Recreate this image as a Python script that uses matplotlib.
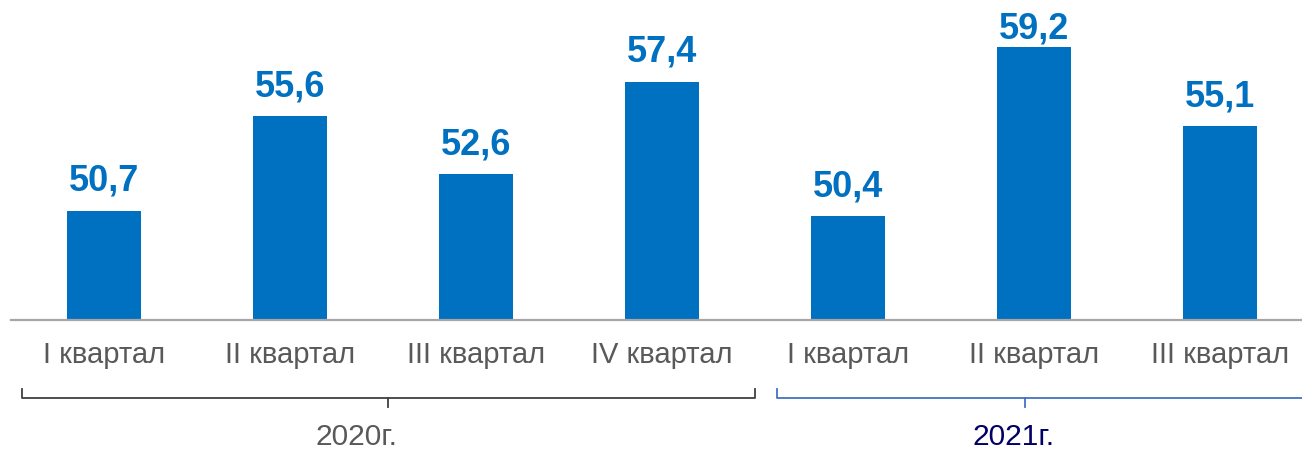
import matplotlib
matplotlib.use("Agg")
import matplotlib.pyplot as plt
from matplotlib.transforms import blended_transform_factory

categories = ["I квартал", "II квартал", "III квартал", "IV квартал",
              "I квартал", "II квартал", "III квартал"]
values = [50.7, 55.6, 52.6, 57.4, 50.4, 59.2, 55.1]
labels = ["50,7", "55,6", "52,6", "57,4", "50,4", "59,2", "55,1"]
years = ["2020г.", "2021г."]

plt.rcParams['font.family'] = ['Liberation Sans', 'DejaVu Sans']

W, H = 1302, 451
fig = plt.figure(figsize=(W / 100, H / 100), dpi=100)
ax = fig.add_axes([11 / W, 1 - 320 / H, 1302 / W, 320 / H])

x = list(range(len(values)))
bar_color = "#0070C0"
ax.bar(x, values, width=0.40, color=bar_color, bottom=0)
ax.set_xlim(-0.5, 6.5)
ax.set_ylim(45, 45 + 320 / 19.2)

for s in ["top", "right", "left"]:
    ax.spines[s].set_visible(False)
ax.spines["bottom"].set_color("#A6A6A6")
ax.spines["bottom"].set_linewidth(1.6)
ax.set_xticks([])
ax.set_yticks([])

# value labels: baseline ~20 px above bar top, kept inside the figure
for xi, v, lab in zip(x, values, labels):
    px, py = ax.transData.transform((xi, v))
    base = min(py + 20, H - 38)
    ax.text(px, base, lab, transform=None, ha="center", va="baseline",
            fontsize=26, fontweight="bold", color=bar_color)

tr = blended_transform_factory(ax.transData, fig.transFigure)

def fy(p):
    return 1 - p / H

text_gray = "#595959"
for xi, c in zip(x, categories):
    ax.text(xi, fy(355), c, transform=tr, ha="center", va="center",
            fontsize=21, color=text_gray, clip_on=False)

def bracket(x0, x1, xc, color, lw):
    ax.plot([x0, x0, x1, x1], [fy(389), fy(398), fy(398), fy(389)],
            transform=tr, color=color, lw=lw, clip_on=False,
            solid_joinstyle="round")
    ax.plot([xc, xc], [fy(398), fy(407)], transform=tr, color=color,
            lw=lw, clip_on=False)

bracket(-0.44, 3.5, 1.527, "#404040", 1.3)
bracket(3.62, 6.6, 4.95, "#4472C4", 1.3)

ax.text(1.36, fy(437), years[0], transform=tr, ha="center", va="center",
        fontsize=21.5, color=text_gray, clip_on=False)
ax.text(4.89, fy(437), years[1], transform=tr, ha="center", va="center",
        fontsize=21.5, color="#000066", clip_on=False)

fig.savefig("out.png", dpi=100)
